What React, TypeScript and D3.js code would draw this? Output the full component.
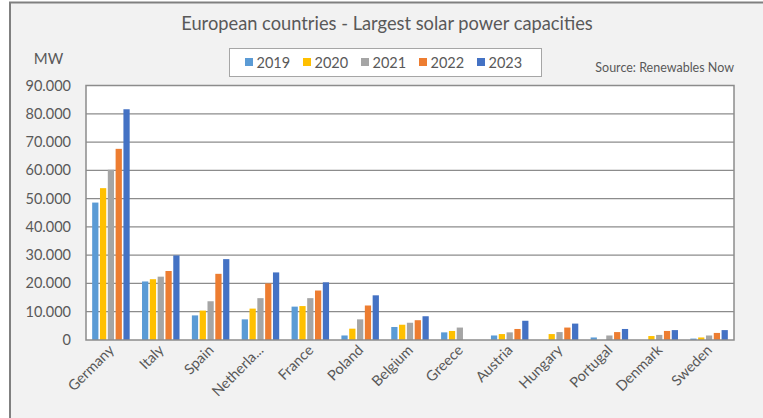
import React from "react";
import * as d3 from "d3";

const countries = ["Germany", "Italy", "Spain", "Netherla...", "France", "Poland", "Belgium", "Greece", "Austria", "Hungary", "Portugal", "Denmark", "Sweden"];
const years = ["2019", "2020", "2021", "2022", "2023"];
const v2019 = [48.6, 20.7, 8.7, 7.3, 11.8, 1.6, 4.6, 2.7, 1.6, null, 0.9, null, 0.5];
const v2020 = [53.7, 21.5, 10.4, 11.1, 12.0, 4.0, 5.4, 3.2, 2.1, 2.1, null, 1.4, 0.9];
const v2021 = [60.2, 22.4, 13.7, 14.8, 14.8, 7.3, 6.1, 4.4, 2.7, 2.8, 1.6, 1.8, 1.6];
const v2022 = [67.6, 24.4, 23.4, 20.0, 17.5, 12.2, 7.0, null, 3.9, 4.4, 2.8, 3.2, 2.5];
const v2023 = [81.6, 29.9, 28.6, 23.9, 20.4, 15.8, 8.4, null, 6.8, 5.8, 3.9, 3.5, 3.5];
const yTicks = [0, 10000, 20000, 30000, 40000, 50000, 60000, 70000, 80000, 90000];
const yTickLabels = ["0", "10.000", "20.000", "30.000", "40.000", "50.000", "60.000", "70.000", "80.000", "90.000"];
const colors = ["#5B9BD5", "#FFC000", "#A5A5A5", "#ED7D31", "#4472C4"];

const series = [v2019, v2020, v2021, v2022, v2023];

const FONT = "Lato, 'Open Sans', sans-serif";
const TXT = "#595959";

export default function App() {
  const W = 763, H = 418;
  const plot = { left: 86, right: 734, top: 85.5, bottom: 340 };
  const x = d3.scaleBand<string>().domain(countries).range([plot.left, plot.right]).paddingInner(0).paddingOuter(0);
  const groupW = 37.5;
  const xi = d3.scaleBand<string>().domain(years).range([0, groupW]).paddingInner(0.2).paddingOuter(0);
  const y = d3.scaleLinear().domain([0, 90000]).range([plot.bottom, plot.top]);

  const legendX0 = 245;
  const legendStep = 58;

  return (
    <div style={{ position: "fixed", left: 0, top: 0, width: W, height: H }}>
      <svg width={W} height={H} style={{ display: "block" }} fontFamily={FONT}>
        <rect x={0} y={0} width={W} height={H} fill="#ffffff" />
        <rect x={10} y={2.5} width={W + 10} height={H + 10} fill="#f2f2f2" stroke="#808080" strokeWidth={2} />
        <text x={387} y={30} textAnchor="middle" fontSize={18.3} fill={TXT}>
          European countries - Largest solar power capacities
        </text>
        <text x={48.5} y={64} textAnchor="middle" fontSize={15} fill={TXT}>MW</text>
        <text x={734} y={72} textAnchor="end" fontSize={12.5} fill={TXT}>Source: Renewables Now</text>

        {/* legend */}
        <rect x={229.5} y={48.5} width={312} height={28} fill="#ffffff" stroke="#a6a6a6" strokeWidth={1} />
        {years.map((yr, i) => (
          <g key={yr} transform={`translate(${legendX0 + i * legendStep},0)`}>
            <rect x={0} y={58} width={8} height={8} fill={colors[i]} />
            <text x={11.5} y={67.5} fontSize={14.5} fill={TXT}>{yr}</text>
          </g>
        ))}

        {/* plot area */}
        <rect x={plot.left} y={plot.top} width={plot.right - plot.left} height={plot.bottom - plot.top} fill="#ffffff" />
        {yTicks.map((t, i) => (
          <g key={t}>
            {t > 0 && t < 90000 && (
              <line x1={plot.left} x2={plot.right} y1={y(t)} y2={y(t)} stroke="#8c8c8c" strokeWidth={1.3} />
            )}
            <text x={71} y={y(t) + 5} textAnchor="end" fontSize={14.5} fill={TXT}>{yTickLabels[i]}</text>
          </g>
        ))}

        {countries.map((c, ci) => (
          <g key={c} transform={`translate(${(x(c) as number) + (x.bandwidth() - groupW) / 2},0)`}>
            {series.map((s, si) => {
              const v = s[ci];
              if (v == null) return null;
              const val = v * 1000;
              return (
                <rect key={si} x={xi(years[si])} y={y(val)} width={xi.bandwidth()} height={y(0) - y(val)} fill={colors[si]} />
              );
            })}
          </g>
        ))}

        <rect x={plot.left} y={plot.top} width={plot.right - plot.left} height={plot.bottom - plot.top} fill="none" stroke="#8c8c8c" strokeWidth={1.5} />

        {countries.map((c) => {
          const cx = (x(c) as number) + x.bandwidth() / 2;
          return (
            <text key={c} transform={`translate(${cx + 4},${351}) rotate(-45)`} textAnchor="end" fontSize={14.5} fill={TXT}>{c}</text>
          );
        })}
      </svg>
    </div>
  );
}
